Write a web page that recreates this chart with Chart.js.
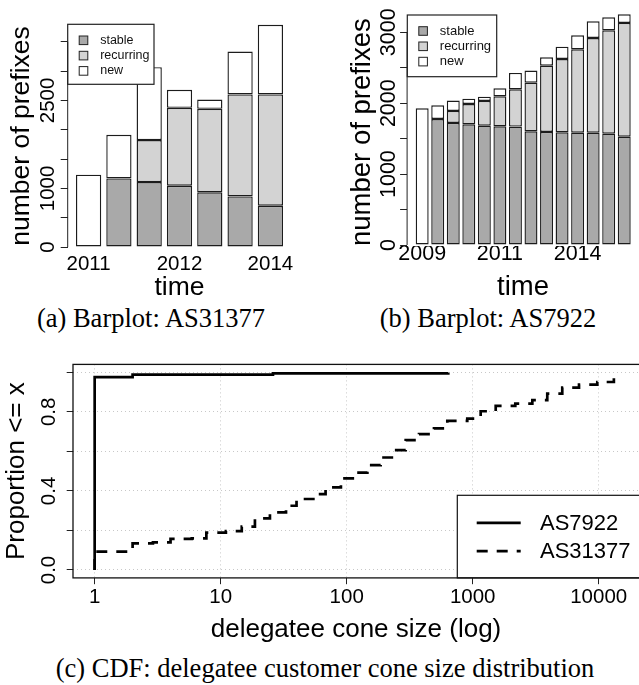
<!DOCTYPE html>
<html lang="en">
<head>
<meta charset="UTF-8">
<title>Prefix barplots and delegatee cone size CDF</title>
<script src="https://cdn.jsdelivr.net/npm/chart.js@4.4.1/dist/chart.umd.min.js"></script>
<style>
	body { margin: 0; background: #fff; width: 639px; height: 685px; position: relative; overflow: hidden; }
	canvas { position: absolute; }
	.cap { position: absolute; font-family: "Liberation Serif", "Times New Roman", serif; font-size: 26.5px; line-height: 26px; white-space: nowrap; color: #000; transform: translateX(-50%); }
</style>
</head>
<body>
<canvas id="chartA" width="320" height="300" style="left:0px; top:0px;"></canvas>
<canvas id="chartB" width="319" height="300" style="left:320px; top:0px;"></canvas>
<canvas id="chartC" width="639" height="310" style="left:0px; top:340px;"></canvas>
<div class="cap" style="left:151px; top:305px;">(a) Barplot: AS31377</div>
<div class="cap" style="left:488px; top:305px;">(b) Barplot: AS7922</div>
<div class="cap" style="left:325px; top:655px;">(c) CDF: delegatee customer cone size distribution</div>
<script>
// (a) AS31377 - prefixes per snapshot
var timeLabelsA = ['2011', '', '', '2012', '', '', '2014'];
var stableA = [0, 1170, 1108, 1045, 932, 863, 704];
var recurringA = [0, 0, 715, 1329, 1425, 1739, 1898];
var newA = [1233, 745, 1245, 307, 159, 732, 1187];
var yTicksA = [0, 500, 1000, 1500, 2000, 2500, 3000, 3500];
var yLabelsA = ['0', '', '1000', '', '', '2500', '', ''];

// (b) AS7922
var timeLabelsB = ['2009', '', '', '', '', '2011', '', '', '', '', '2014', '', '', ''];
var stableB = [0, 1777, 1721, 1702, 1683, 1674, 1670, 1603, 1594, 1589, 1584, 1584, 1570, 1528];
var recurringB = [0, 0, 169, 286, 348, 423, 525, 686, 935, 1034, 1176, 1335, 1457, 1603];
var newB = [1927, 193, 146, 76, 61, 112, 231, 170, 118, 174, 197, 235, 184, 122];
var yTicksB = [0, 500, 1000, 1500, 2000, 2500, 3000];
var yLabelsB = ['0', '', '1000', '', '2000', '', '3000'];

// (c) CDF of delegatee cone size
var coneAS7922 = [1, 1, 2, 26, 640];
var propAS7922 = [0, 0.976, 0.988, 0.995, 0.998];
var coneAS31377 = [1, 1, 2, 2.9, 4, 5.9, 7.7, 11, 14.7, 18.7, 24.6, 33, 40, 56, 68, 90, 118, 146, 186, 238, 294, 375, 493, 629, 906, 1157, 1523, 2179, 2974, 3908, 5140, 6980, 9750, 13200];
var propAS31377 = [0, 0.093, 0.135, 0.14, 0.157, 0.16, 0.189, 0.197, 0.219, 0.261, 0.291, 0.325, 0.359, 0.384, 0.418, 0.463, 0.493, 0.53, 0.569, 0.606, 0.657, 0.687, 0.716, 0.754, 0.766, 0.803, 0.83, 0.842, 0.859, 0.892, 0.923, 0.938, 0.951, 0.976];
var xTicksC = [1, 10, 100, 1000, 10000];
var xLabelsC = ['1', '10', '100', '1000', '10000'];
var yTicksC = [0, 0.2, 0.4, 0.6, 0.8, 1.0];
var yLabelsC = ['0.0', '', '0.4', '', '0.8', ''];

var SANS = "'Liberation Sans', Arial, Helvetica, sans-serif";

function textWidest(labels, size) {
	var ctx = document.createElement('canvas').getContext('2d');
	ctx.font = size + 'px "Liberation Sans"';
	var w = 0;
	for (var i = 0; i < labels.length; i++) {
		w = Math.max(w, ctx.measureText(labels[i]).width);
	}
	return w;
}

function toPoints(xs, ys) {
	return ys.map(function (v, i) { return { x: xs === null ? i : xs[i], y: v }; });
}

// R style y axis line: only from first to last tick
var rAxisLine = {
	id: 'rAxisLine',
	afterDraw: function (chart) {
		var s = chart.scales.y, ctx = chart.ctx, t = s.ticks;
		ctx.save();
		ctx.strokeStyle = '#222';
		ctx.lineWidth = 1;
		ctx.beginPath();
		ctx.moveTo(chart.chartArea.left, s.getPixelForValue(t[0].value));
		ctx.lineTo(chart.chartArea.left, s.getPixelForValue(t[t.length - 1].value));
		ctx.stroke();
		ctx.restore();
	}
};

function barLegend(box) {
	return {
		id: 'barLegend',
		afterDatasetsDraw: function (chart) {
			var ctx = chart.ctx, a = chart.chartArea;
			var x0 = a.left + box.dx, y0 = a.top + box.dy;
			ctx.save();
			ctx.fillStyle = '#fff';
			ctx.fillRect(x0, y0, box.w, box.h);
			ctx.strokeStyle = '#222';
			ctx.lineWidth = 1.2;
			ctx.strokeRect(x0, y0, box.w, box.h);
			ctx.font = box.size + 'px ' + SANS;
			ctx.textBaseline = 'middle';
			chart.data.datasets.forEach(function (ds, i) {
				var cy = y0 + 16 + i * 15.3;
				ctx.fillStyle = ds.backgroundColor;
				ctx.fillRect(x0 + 11.5, cy - 4.3, 8.6, 8.6);
				ctx.lineWidth = 1;
				ctx.strokeRect(x0 + 11.5, cy - 4.3, 8.6, 8.6);
				ctx.fillStyle = '#111';
				ctx.fillText(ds.label, x0 + 32.5, cy);
			});
			ctx.restore();
		}
	};
}

function barChart(id, cfg) {
	var widest = textWidest(cfg.yLabels, cfg.tickSize);
	var tickFont = { family: SANS, size: cfg.tickSize, lineHeight: 1 };
	var titleFont = { family: SANS, size: cfg.titleSize, lineHeight: 1 };
	var common = { borderColor: '#1c1c1c', borderWidth: 1.4, borderSkipped: false, categoryPercentage: 1, barPercentage: 1 / 1.2 };
	return new Chart(document.getElementById(id), {
		type: 'bar',
		data: {
			datasets: [
				Object.assign({ label: 'stable', data: toPoints(null, cfg.stable), backgroundColor: '#a9a9a9' }, common),
				Object.assign({ label: 'recurring', data: toPoints(null, cfg.recurring), backgroundColor: '#d3d3d3' }, common),
				Object.assign({ label: 'new', data: toPoints(null, cfg.fresh), backgroundColor: '#ffffff' }, common)
			]
		},
		options: {
			responsive: false,
			animation: false,
			devicePixelRatio: 1,
			layout: { autoPadding: false, padding: { left: 0, right: cfg.padRight, top: cfg.padTop, bottom: 0 } },
			plugins: { legend: { display: false }, tooltip: { enabled: false } },
			scales: {
				x: {
					type: 'linear', stacked: true, offset: false, min: cfg.xMin, max: cfg.xMax,
					afterBuildTicks: function (s) { s.ticks = cfg.xLabels.map(function (l, i) { return { value: i }; }); },
					afterFit: function (s) { s.height = cfg.xHeight; },
					grid: { display: false, drawTicks: false, offset: false },
					border: { display: false },
					ticks: { autoSkip: false, maxRotation: 0, minRotation: 0, padding: cfg.xPad, color: '#000', font: tickFont,
						callback: function (v, i) { return cfg.xLabels[i]; } },
					title: { display: true, text: 'time', color: '#000', font: titleFont, padding: { top: 0, bottom: cfg.xTitlePad } }
				},
				y: {
					type: 'linear', stacked: true, min: cfg.yMin, max: cfg.yMax,
					afterBuildTicks: function (s) { s.ticks = cfg.yTicks.map(function (v) { return { value: v }; }); },
					afterFit: function (s) { s.width = cfg.yWidth; },
					grid: { display: true, drawOnChartArea: false, drawTicks: true, tickLength: 7, tickColor: '#222', tickWidth: 1 },
					border: { display: false },
					ticks: { autoSkip: false, minRotation: 90, maxRotation: 90, crossAlign: 'center', color: '#000', font: tickFont,
						padding: cfg.yLabelDist - 7 - widest / 2,
						callback: function (v, i) { return cfg.yLabels[i]; } },
					title: { display: true, text: 'number of prefixes', color: '#000', font: titleFont, align: cfg.yTitleAlign,
						padding: { top: cfg.yTitlePad, bottom: 0 } }
				}
			}
		},
		plugins: [rAxisLine, barLegend(cfg.legend)]
	});
}

barChart('chartA', {
	stable: stableA, recurring: recurringA, fresh: newA, xLabels: timeLabelsA, yTicks: yTicksA, yLabels: yLabelsA,
	tickSize: 20.5, titleSize: 26.5,
	padRight: 28.7, padTop: 16, xHeight: 44.1, yWidth: 67.7,
	xMin: -0.69, xMax: 6.69, yMin: -151.6, yMax: 3940,
	xPad: -2.2, xTitlePad: -0.6, yLabelDist: 19.2, yTitlePad: 8.4, yTitleAlign: 'center',
	legend: { dx: 0, dy: 8.3, w: 86.3, h: 60, size: 12.5 }
});

barChart('chartB', {
	stable: stableB, recurring: recurringB, fresh: newB, xLabels: timeLabelsB, yTicks: yTicksB, yLabels: yLabelsB,
	tickSize: 21.5, titleSize: 27.5,
	padRight: 0, padTop: 5.1, xHeight: 54, yWidth: 87.1,
	xMin: -0.97, xMax: 13.95, yMin: -14.1, yMax: 3383,
	xPad: -2.25, xTitlePad: -0.8, yLabelDist: 18.3, yTitlePad: 28.9, yTitleAlign: 'start',
	legend: { dx: 0.2, dy: 9.9, w: 89.4, h: 61.7, size: 13 }
});

// (c) legend in the bottom right corner plus the full box
var cdfExtras = {
	id: 'cdfExtras',
	afterDatasetsDraw: function (chart) {
		var ctx = chart.ctx, a = chart.chartArea;
		var lx = a.right - 181.7, ly = a.bottom - 82.6;
		ctx.save();
		ctx.fillStyle = '#fff';
		ctx.fillRect(lx, ly, a.right - lx, a.bottom - ly);
		ctx.strokeStyle = '#111';
		ctx.lineWidth = 1.2;
		ctx.strokeRect(lx, ly, a.right - lx + 2, a.bottom - ly);
		ctx.font = '22px ' + SANS;
		ctx.textBaseline = 'middle';
		chart.data.datasets.forEach(function (ds, i) {
			var cy = ly + 27.6 + i * 28.2;
			ctx.setLineDash(ds.borderDash || []);
			ctx.lineWidth = ds.borderWidth;
			ctx.strokeStyle = ds.borderColor;
			ctx.beginPath();
			ctx.moveTo(lx + 19.4, cy);
			ctx.lineTo(lx + 63.4, cy);
			ctx.stroke();
			ctx.fillStyle = '#000';
			ctx.fillText(ds.label, lx + 82.7, cy + 0.8);
		});
		ctx.setLineDash([]);
		ctx.lineWidth = 1.3;
		ctx.strokeStyle = '#111';
		ctx.strokeRect(a.left, a.top, a.right - a.left + 2, a.bottom - a.top);
		ctx.restore();
	}
};

var tickFontC = { family: SANS, size: 20.5, lineHeight: 1 };
var titleFontC = { family: SANS, size: 26, lineHeight: 1 };
var widestC = textWidest(yLabelsC, 20.5);

new Chart(document.getElementById('chartC'), {
	type: 'line',
	data: {
		datasets: [
			{ label: 'AS7922', data: toPoints(coneAS7922, propAS7922), borderColor: '#000', borderWidth: 2.7, stepped: 'before', pointRadius: 0, fill: false },
			{ label: 'AS31377', data: toPoints(coneAS31377, propAS31377), borderColor: '#000', borderWidth: 2.7, borderDash: [11, 9], borderCapStyle: 'butt', stepped: 'before', pointRadius: 0, fill: false }
		]
	},
	options: {
		responsive: false,
		animation: false,
		devicePixelRatio: 1,
		layout: { autoPadding: false, padding: { left: 0, right: 0, top: 24.4, bottom: 0 } },
		plugins: { legend: { display: false }, tooltip: { enabled: false } },
		scales: {
			x: {
				type: 'logarithmic', min: 0.673, max: 20890,
				afterBuildTicks: function (s) { s.ticks = xTicksC.map(function (v) { return { value: v }; }); },
				afterFit: function (s) { s.height = 72.1; },
				grid: { color: '#c8c8c8', lineWidth: 1, drawTicks: true, tickLength: 6.3, tickColor: '#222', tickWidth: 1 },
				border: { display: false, dash: [1, 3] },
				ticks: { autoSkip: false, maxRotation: 0, minRotation: 0, padding: 2.8, color: '#000', font: tickFontC,
					callback: function (v, i) { return xLabelsC[i]; } },
				title: { display: true, text: 'delegatee cone size (log)', color: '#000', font: titleFontC, padding: { top: 0, bottom: 7.1 } }
			},
			y: {
				type: 'linear', min: -0.04, max: 1.04,
				afterBuildTicks: function (s) { s.ticks = yTicksC.map(function (v) { return { value: v }; }); },
				afterFit: function (s) { s.width = 73; },
				grid: { color: '#c8c8c8', lineWidth: 1, drawTicks: true, tickLength: 6.3, tickColor: '#222', tickWidth: 1 },
				border: { display: false, dash: [1, 3] },
				ticks: { autoSkip: false, minRotation: 90, maxRotation: 90, crossAlign: 'center', color: '#000', font: tickFontC,
					padding: 23.5 - 6.3 - widestC / 2,
					callback: function (v, i) { return yLabelsC[i]; } },
				title: { display: true, text: 'Proportion <= x', color: '#000', font: titleFontC, padding: { top: 3.7, bottom: 0 } }
			}
		}
	},
	plugins: [cdfExtras]
});
</script>
</body>
</html>
